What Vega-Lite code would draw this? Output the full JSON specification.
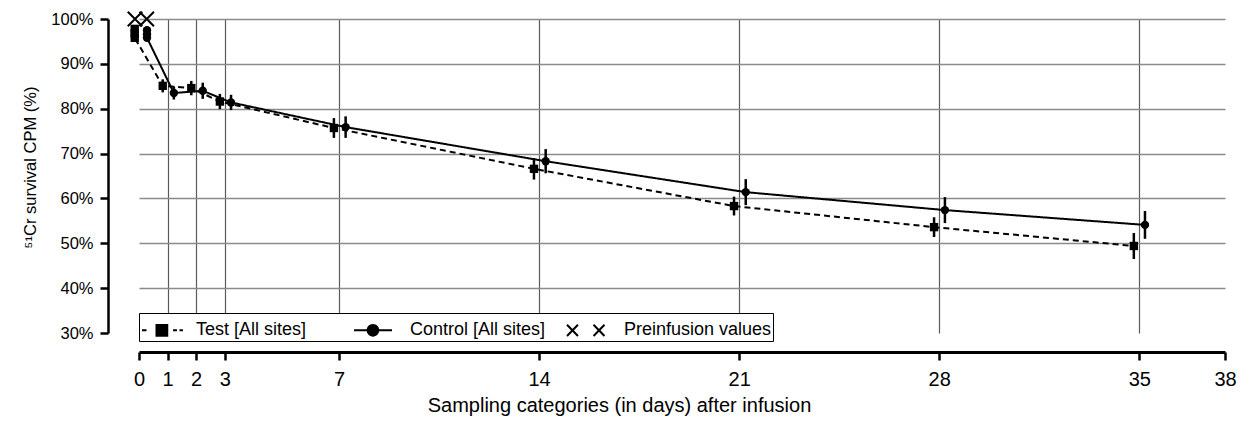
{
  "$schema": "https://vega.github.io/schema/vega-lite/v6.json",
  "width": 1086,
  "height": 314,
  "autosize": {"type": "none"},
  "padding": {"left": 139, "top": 19, "right": 19, "bottom": 90},
  "background": "white",
  "config": {
    "view": {"stroke": null},
    "font": "Liberation Sans",
    "axis": {"labelFont": "Liberation Sans", "titleFont": "Liberation Sans", "labelColor": "black", "titleColor": "black", "titleFontWeight": "normal", "domainColor": "black", "tickColor": "black"},
    "axisX": {
      "domainWidth": 3, "tickWidth": 2.5, "tickSize": 8,
      "labelFontSize": 20, "labelPadding": 9, "labelFlush": false, "labelOverlap": false,
      "grid": true, "gridColor": "#5a5a5a", "gridWidth": 1.2,
      "titleFontSize": 20
    },
    "axisY": {
      "domain": true, "ticks": true,
      "domainWidth": 2.5, "tickWidth": 2.5, "tickSize": 8,
      "labelFontSize": 16.5, "labelPadding": 7,
      "grid": true, "gridColor": "#8a8a8a", "gridWidth": 1.5,
      "titleFontSize": 16.5
    },
    "legend": {"labelFont": "Liberation Sans", "labelColor": "black"}
  },
  "data": {
    "values": [
      {"series": "Test [All sites]", "day": 0, "x": -0.15, "v": 0.978, "lo": null, "hi": null, "seq": 0},
      {"series": "Test [All sites]", "day": 0, "x": -0.15, "v": 0.968, "lo": null, "hi": null, "seq": 1},
      {"series": "Test [All sites]", "day": 0, "x": -0.15, "v": 0.958, "lo": null, "hi": null, "seq": 2},
      {"series": "Test [All sites]", "day": 1, "x": 0.83, "v": 0.851, "lo": 0.8365, "hi": 0.8655, "seq": 3},
      {"series": "Test [All sites]", "day": 2, "x": 1.83, "v": 0.846, "lo": 0.83, "hi": 0.862, "seq": 4},
      {"series": "Test [All sites]", "day": 3, "x": 2.83, "v": 0.816, "lo": 0.799, "hi": 0.833, "seq": 5},
      {"series": "Test [All sites]", "day": 7, "x": 6.82, "v": 0.757, "lo": 0.735, "hi": 0.779, "seq": 6},
      {"series": "Test [All sites]", "day": 14, "x": 13.82, "v": 0.666, "lo": 0.642, "hi": 0.69, "seq": 7},
      {"series": "Test [All sites]", "day": 21, "x": 20.82, "v": 0.583, "lo": 0.562, "hi": 0.604, "seq": 8},
      {"series": "Test [All sites]", "day": 28, "x": 27.82, "v": 0.536, "lo": 0.514, "hi": 0.558, "seq": 9},
      {"series": "Test [All sites]", "day": 35, "x": 34.81, "v": 0.494, "lo": 0.465, "hi": 0.523, "seq": 10},
      {"series": "Control [All sites]", "day": 0, "x": 0.28, "v": 0.975, "lo": null, "hi": null, "seq": 0},
      {"series": "Control [All sites]", "day": 0, "x": 0.28, "v": 0.966, "lo": null, "hi": null, "seq": 1},
      {"series": "Control [All sites]", "day": 0, "x": 0.28, "v": 0.958, "lo": null, "hi": null, "seq": 2},
      {"series": "Control [All sites]", "day": 1, "x": 1.22, "v": 0.835, "lo": 0.8205, "hi": 0.8495, "seq": 3},
      {"series": "Control [All sites]", "day": 2, "x": 2.23, "v": 0.84, "lo": 0.822, "hi": 0.858, "seq": 4},
      {"series": "Control [All sites]", "day": 3, "x": 3.22, "v": 0.814, "lo": 0.797, "hi": 0.831, "seq": 5},
      {"series": "Control [All sites]", "day": 7, "x": 7.23, "v": 0.759, "lo": 0.735, "hi": 0.783, "seq": 6},
      {"series": "Control [All sites]", "day": 14, "x": 14.23, "v": 0.683, "lo": 0.656, "hi": 0.71, "seq": 7},
      {"series": "Control [All sites]", "day": 21, "x": 21.23, "v": 0.614, "lo": 0.585, "hi": 0.643, "seq": 8},
      {"series": "Control [All sites]", "day": 28, "x": 28.2, "v": 0.574, "lo": 0.545, "hi": 0.603, "seq": 9},
      {"series": "Control [All sites]", "day": 35, "x": 35.2, "v": 0.541, "lo": 0.51, "hi": 0.572, "seq": 10},
      {"series": "Preinfusion values", "day": 0, "x": -0.14, "v": 1.0, "lo": null, "hi": null, "seq": 0},
      {"series": "Preinfusion values", "day": 0, "x": 0.27, "v": 1.0, "lo": null, "hi": null, "seq": 1}
    ]
  },
  "encoding": {
    "x": {
      "field": "x", "type": "quantitative",
      "scale": {"domain": [0, 38], "nice": false, "zero": false},
      "axis": {
        "values": [0, 1, 2, 3, 7, 14, 21, 28, 35, 38],
        "offset": 19,
        "gridOpacity": {"condition": {"test": "datum.value < 0.5 || datum.value > 37", "value": 0}, "value": 1},
        "title": "Sampling categories (in days) after infusion",
        "titleX": 480, "titleY": 53, "titleBaseline": "middle", "titleAlign": "center"
      }
    },
    "y": {
      "field": "v", "type": "quantitative",
      "scale": {"domain": [0.3, 1.0], "nice": false, "zero": false},
      "axis": {
        "values": [0.3, 0.4, 0.5, 0.6, 0.7, 0.8, 0.9, 1.0],
        "format": ".0%",
        "offset": 31,
        "domain": true, "ticks": true, "domainColor": "black", "tickColor": "black", "domainWidth": 2.5, "tickWidth": 2.5,
        "gridOpacity": {"condition": {"test": "datum.value < 0.35", "value": 0}, "value": 1},
        "title": "⁵¹Cr survival CPM (%)",
        "titleX": -78, "titleY": 148, "titleBaseline": "middle", "titleAlign": "center", "titleAngle": 270
      }
    }
  },
  "layer": [
    {
      "transform": [{"filter": "datum.series !== 'Preinfusion values'"}],
      "mark": {"type": "line", "color": "black", "strokeWidth": 2},
      "encoding": {
        "detail": {"field": "series"},
        "order": {"field": "seq", "type": "quantitative"},
        "strokeDash": {
          "field": "series", "type": "nominal",
          "scale": {"domain": ["Test [All sites]", "Control [All sites]"], "range": [[6, 4], [1, 0]]},
          "legend": null
        }
      }
    },
    {
      "transform": [{"filter": "isValid(datum.hi)"}],
      "mark": {"type": "rule", "color": "black", "strokeWidth": 2.5},
      "encoding": {"y2": {"field": "hi"}}
    },
    {
      "transform": [{"filter": "isValid(datum.lo)"}],
      "mark": {"type": "rule", "color": "black", "strokeWidth": 2.5},
      "encoding": {"y2": {"field": "lo"}}
    },
    {
      "mark": {"type": "point", "filled": true, "color": "black", "stroke": "black", "opacity": 1},
      "encoding": {
        "shape": {
          "field": "series", "type": "nominal",
          "scale": {
            "domain": ["Test [All sites]", "Control [All sites]", "Preinfusion values"],
            "range": ["square", "circle", "M-1,-1L1,1M-1,1L1,-1"]
          },
          "legend": null
        },
        "size": {"condition": {"test": "datum.series === 'Preinfusion values'", "value": 210}, "value": 70},
        "strokeWidth": {"condition": {"test": "datum.series === 'Preinfusion values'", "value": 2}, "value": 0}
      }
    },
    {
      "transform": [{"filter": "false"}],
      "mark": {"type": "point", "filled": true, "color": "black", "opacity": 1},
      "encoding": {
        "shape": {
          "field": "series", "type": "nominal",
          "scale": {
            "domain": ["Test [All sites]", "Control [All sites]", "Preinfusion values"],
            "range": [
              "M-1.2,-0.067H-0.9V0.067H-1.2ZM-0.3,-0.42H0.55V0.42H-0.3ZM0.87,-0.067H1.13V0.067H0.87ZM1.3,-0.067H1.53V0.067H1.3Z",
              "M-1.33,-0.067H1.2V0.067H-1.33ZM-0.49,0A0.42,0.42,0,1,1,0.35,0A0.42,0.42,0,1,1,-0.49,0Z",
              "M-1.448,-0.323L-0.718,0.417L-0.622,0.323L-1.352,-0.417ZM-1.352,0.417L-0.622,-0.323L-0.718,-0.417L-1.448,0.323ZM0.322,-0.323L1.052,0.417L1.148,0.323L0.418,-0.417ZM0.418,0.417L1.148,-0.323L1.052,-0.417L0.322,0.323Z"
            ]
          },
          "legend": {
            "title": null,
            "orient": "none", "legendX": 0, "legendY": 294,
            "direction": "horizontal", "columns": 3,
            "gridAlign": "all", "columnPadding": 5,
            "padding": 1,
            "fillColor": "white", "strokeColor": "black",
            "labelFontSize": 18, "labelOffset": 20,
            "symbolSize": 900, "symbolOffset": 4,
            "symbolFillColor": "black", "symbolOpacity": 1,
            "encode": {
              "legend": {"strokeWidth": {"value": 1.5}},
              "symbols": {"fill": {"value": "black"}, "opacity": {"value": 1}}
            }
          }
        }
      }
    }
  ],
  "resolve": {"scale": {"shape": "independent"}}
}
